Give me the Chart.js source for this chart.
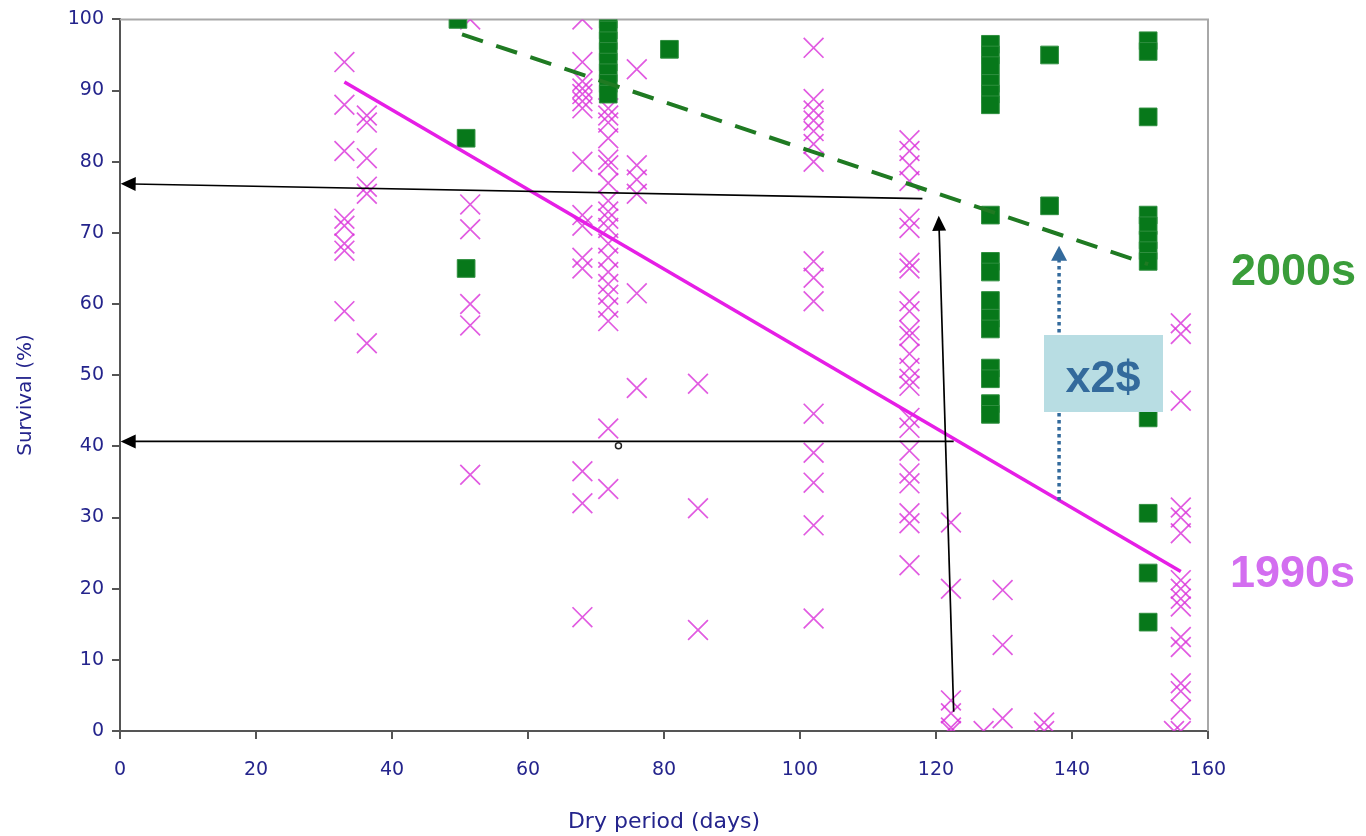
<!DOCTYPE html>
<html>
<head>
<meta charset="utf-8">
<title>Survival vs dry period</title>
<script src="https://cdn.jsdelivr.net/npm/chart.js@4/dist/chart.umd.min.js"></script>
<style>
  html, body { margin: 0; padding: 0; background: #ffffff; }
  canvas { display: block; }
</style>
</head>
<body>
<canvas id="chart" width="1366" height="836"></canvas>
<script>
// 1990s survival (%) observations, grouped by dry-period length (days)
const dryDays1990 = [33, 36.3, 51.5, 68, 71.8, 76, 85, 102, 116.1, 122.2, 127, 129.8, 135.9, 155, 156];
const survival1990 = [
  [94, 88, 81.5, 72, 71, 68.5, 67.5, 59],
  [86.5, 85.5, 80.5, 76.5, 75.5, 54.5],
  [100, 74, 70.5, 60, 57, 36],
  [100, 94, 91.3, 90.3, 89.5, 88.5, 87.5, 80, 72.5, 71, 66.5, 65, 36.5, 32, 16],
  [87.5, 86.5, 85.5, 83.3, 80.3, 79.5, 77, 74.5, 73, 72, 70.7, 68.5, 66.5, 64.5, 62.8, 61.3, 59.5, 57.6, 42.5, 34],
  [93, 79.5, 77.5, 75.5, 61.5, 48.2],
  [48.8, 31.3, 14.2],
  [96, 88.8, 87.2, 85.8, 84.3, 82.5, 80, 66, 63.7, 60.4, 44.6, 39.1, 34.9, 28.9, 15.8],
  [83, 81.5, 79.5, 77.3, 72, 70.7, 65.8, 65, 60.4, 59, 56.3, 55.5, 53, 51, 49.5, 48.5, 44, 42.6, 39.4, 36.2, 34.8, 30.6, 29.2, 23.3],
  [29.3, 20, 4.3, 2.5, 0.5, 0],
  [0],
  [19.8, 12.1, 1.8],
  [1.2, 0],
  [0],
  [57.3, 55.8, 46.4, 31.4, 30, 27.8, 21.2, 20, 18.6, 17.5, 13.2, 11.8, 6.7, 5.6, 3, 0]
];

// 2000s survival (%) observations
const dryDays2000 = [49.7, 50.9, 71.8, 80.8, 128, 136.7, 151.2];
const survival2000 = [
  [100],
  [83.3, 65],
  [100, 98.5, 97, 95.5, 94, 92.5, 91, 89.5],
  [95.8],
  [96.5, 95, 93.5, 91, 89.5, 88, 72.5, 66, 64.5, 60.5, 58, 56.5, 51, 49.5, 46, 44.5],
  [95, 73.8],
  [97, 95.5, 86.3, 72.5, 71, 69, 67.5, 66, 44, 30.6, 22.2, 15.3]
];

// Fitted trend lines (end points)
const trendDays1990 = [33, 156];
const trendSurvival1990 = [91.2, 22.4];
const trendDays2000 = [50.3, 151.2];
const trendSurvival2000 = [97.9, 65.6];

// Axis ticks
const xTicks = [0, 20, 40, 60, 80, 100, 120, 140, 160];
const yTicks = [0, 10, 20, 30, 40, 50, 60, 70, 80, 90, 100];

// Reading guides: [fromDay, fromSurvival, toDay, toSurvival]
const guideArrows = [
  [118.0, 74.8, 0.1, 76.9],
  [122.6, 40.7, 0.1, 40.7],
  [122.6, 2.7, 120.4, 72.4]
];
const gainArrow = [138.1, 32.4, 138.1, 68.2];
const markerDot = [73.3, 40.1];

function toPoints(days, groups) {
  const pts = [];
  groups.forEach((vals, i) => vals.forEach(v => pts.push({ x: days[i], y: v })));
  return pts;
}
function toLine(days, vals) {
  return days.map((d, i) => ({ x: d, y: vals[i] }));
}

const NAVY = '#24248c';

function arrowHead(ctx, x1, y1, x2, y2, len, half, color) {
  const a = Math.atan2(y2 - y1, x2 - x1);
  ctx.save();
  ctx.fillStyle = color;
  ctx.beginPath();
  ctx.moveTo(x2, y2);
  ctx.lineTo(x2 - len * Math.cos(a) + half * Math.sin(a), y2 - len * Math.sin(a) - half * Math.cos(a));
  ctx.lineTo(x2 - len * Math.cos(a) - half * Math.sin(a), y2 - len * Math.sin(a) + half * Math.cos(a));
  ctx.closePath();
  ctx.fill();
  ctx.restore();
}

const overlay = {
  id: 'overlay',
  beforeDatasetsDraw(chart) {
    const { ctx, chartArea: a } = chart;
    ctx.save();
    ctx.strokeStyle = '#a8a8a8';
    ctx.lineWidth = 2;
    ctx.beginPath();
    ctx.moveTo(a.left, a.top);
    ctx.lineTo(a.right, a.top);
    ctx.lineTo(a.right, a.bottom);
    ctx.stroke();
    ctx.restore();
  },
  afterDatasetsDraw(chart) {
    const { ctx } = chart;
    const sx = chart.scales.x, sy = chart.scales.y;
    const px = v => sx.getPixelForValue(v);
    const py = v => sy.getPixelForValue(v);

    // black reading guides
    guideArrows.forEach(g => {
      const x1 = px(g[0]), y1 = py(g[1]), x2 = px(g[2]), y2 = py(g[3]);
      ctx.save();
      ctx.strokeStyle = '#000';
      ctx.lineWidth = 1.7;
      ctx.beginPath();
      ctx.moveTo(x1, y1);
      const a = Math.atan2(y2 - y1, x2 - x1);
      ctx.lineTo(x2 - 12 * Math.cos(a), y2 - 12 * Math.sin(a));
      ctx.stroke();
      ctx.restore();
      arrowHead(ctx, x1, y1, x2, y2, 15, 7, '#000');
    });

    // blue dotted gain arrow
    {
      const x1 = px(gainArrow[0]), y1 = py(gainArrow[1]), x2 = px(gainArrow[2]), y2 = py(gainArrow[3]);
      ctx.save();
      ctx.strokeStyle = '#336a9c';
      ctx.lineWidth = 3.5;
      ctx.setLineDash([3.5, 3.5]);
      ctx.beginPath();
      ctx.moveTo(x1, y1);
      ctx.lineTo(x2, y2 + 14);
      ctx.stroke();
      ctx.restore();
      arrowHead(ctx, x1, y1, x2, y2, 15, 8, '#336a9c');
    }

    // small open marker
    ctx.save();
    ctx.strokeStyle = '#222';
    ctx.fillStyle = '#fff';
    ctx.lineWidth = 1.5;
    ctx.beginPath();
    ctx.arc(px(markerDot[0]), py(markerDot[1]), 3, 0, Math.PI * 2);
    ctx.fill();
    ctx.stroke();
    ctx.restore();
  },
  afterDraw(chart) {
    const { ctx } = chart;
    ctx.save();
    // y-axis title
    ctx.save();
    ctx.translate(26, 395);
    ctx.rotate(-Math.PI / 2);
    ctx.fillStyle = NAVY;
    ctx.font = '20px "DejaVu Sans", sans-serif';
    ctx.textAlign = 'center';
    ctx.textBaseline = 'middle';
    ctx.fillText('Survival (%)', 0, 0);
    ctx.restore();

    // "x2$" callout box
    ctx.fillStyle = '#b8dde3';
    ctx.fillRect(1044, 335, 119, 77);
    ctx.fillStyle = '#336a9c';
    ctx.font = 'bold 45px "Liberation Sans", Arial, sans-serif';
    ctx.textAlign = 'center';
    ctx.textBaseline = 'alphabetic';
    ctx.fillText('x2$', 1103, 392);

    // decade labels
    ctx.textAlign = 'left';
    ctx.font = 'bold 45px "Liberation Sans", Arial, sans-serif';
    ctx.fillStyle = '#3a9d3a';
    ctx.fillText('2000s', 1231, 285);
    ctx.fillStyle = '#d36ef0';
    ctx.fillText('1990s', 1230, 587);
    ctx.restore();
  }
};

new Chart(document.getElementById('chart'), {
  type: 'scatter',
  data: {
    datasets: [
      {
        label: '1990s trend',
        data: toLine(trendDays1990, trendSurvival1990),
        showLine: true,
        borderColor: '#e61ee6',
        borderWidth: 3.5,
        pointRadius: 0,
        order: 1
      },
      {
        label: '2000s trend',
        data: toLine(trendDays2000, trendSurvival2000),
        showLine: true,
        borderColor: '#1f7a22',
        borderWidth: 4,
        borderDash: [22, 14],
        pointRadius: 0,
        order: 0
      },
      {
        label: '2000s',
        data: toPoints(dryDays2000, survival2000),
        pointStyle: 'rect',
        pointRadius: 12.5,
        backgroundColor: '#07781a',
        borderColor: '#2f8f3f',
        borderWidth: 1,
        order: 2
      },
      {
        label: '1990s',
        data: toPoints(dryDays1990, survival1990),
        pointStyle: 'crossRot',
        pointRadius: 14,
        borderColor: 'rgba(218, 50, 218, 0.8)',
        borderWidth: 1.7,
        order: 3
      }
    ]
  },
  options: {
    responsive: false,
    animation: false,
    layout: { padding: { top: 18, right: 158, left: 0, bottom: 0 } },
    plugins: {
      legend: { display: false },
      tooltip: { enabled: false }
    },
    scales: {
      x: {
        type: 'linear',
        min: 0,
        max: 160,
        afterFit(scale) { scale.height = 105; },
        afterBuildTicks(scale) { scale.ticks = xTicks.map(v => ({ value: v })); },
        grid: { drawOnChartArea: false, drawTicks: true, tickLength: 8, color: '#555', lineWidth: 2 },
        border: { color: '#555', width: 2 },
        ticks: {
          color: NAVY,
          font: { family: '"DejaVu Sans", sans-serif', size: 19 },
          padding: 20,
          maxRotation: 0
        },
        title: {
          display: true,
          text: 'Dry period (days)',
          color: NAVY,
          font: { family: '"DejaVu Sans", sans-serif', size: 22, lineHeight: 1.2 },
          padding: { top: 0, bottom: 1 }
        }
      },
      y: {
        type: 'linear',
        min: 0,
        max: 100,
        afterFit(scale) { scale.width = 120; },
        afterBuildTicks(scale) { scale.ticks = yTicks.map(v => ({ value: v })); },
        grid: { drawOnChartArea: false, drawTicks: true, tickLength: 8, color: '#555', lineWidth: 2 },
        border: { color: '#555', width: 2 },
        ticks: {
          color: NAVY,
          font: { family: '"DejaVu Sans", sans-serif', size: 19 },
          padding: 8
        },
        title: { display: false }
      }
    }
  },
  plugins: [overlay]
});
</script>
</body>
</html>
